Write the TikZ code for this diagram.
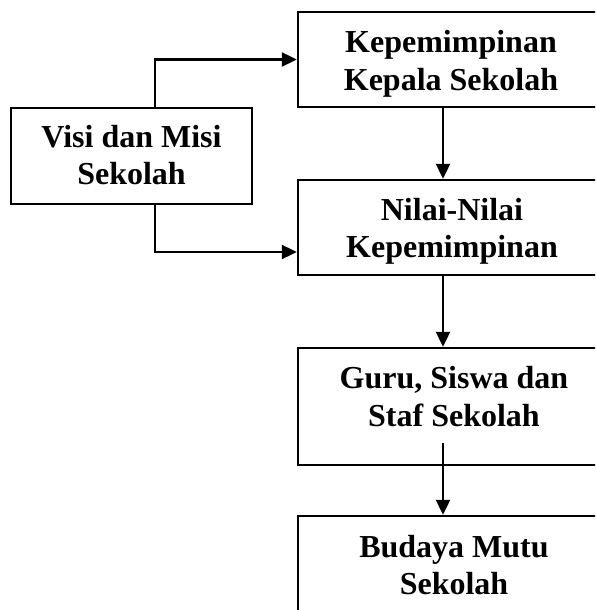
\documentclass[tikz,border=0pt]{standalone}
\usepackage{fontspec}
\setmainfont{Liberation Serif}
\usetikzlibrary{arrows.meta}

\begin{document}
\begin{tikzpicture}[x=1pt,y=-1pt,
  box/.style={draw=black, line width=2.5pt, fill=white, inner sep=0pt},
  lbl/.style={align=center, inner sep=0pt,
    font=\fontsize{32}{37.5}\selectfont\bfseries},
  arr/.style={draw=black, line width=2.4pt,
    -{Triangle[length=15pt,width=14pt]}}]
  \useasboundingbox (0,0) rectangle (595,610);
  \clip (0,0) rectangle (595,610);
  \fill[white] (0,0) rectangle (595,610);

  % boxes
  \node[box, minimum width=308pt, minimum height=95pt]  (kep) at (452,59.5)  {};
  \node[box, minimum width=308pt, minimum height=95pt]  (nil) at (452,227.5) {};
  \node[box, minimum width=308pt, minimum height=117pt] (gur) at (452,406.5) {};
  \node[box, minimum width=308pt, minimum height=120pt] (bud) at (452,576)   {};
  \node[box, minimum width=241pt, minimum height=96pt]  (vis) at (131.5,156) {};

  % texts
  \node[lbl] (tkep) at (451,64)    {Kepemimpinan\\Kepala Sekolah};
  \node[lbl] (tnil) at (452,231.5) {Nilai-Nilai\\Kepemimpinan};
  \node[lbl] (tgur) at (454,396.5) {Guru, Siswa dan\\Staf Sekolah};
  \node[lbl] (tbud) at (454,565)   {Budaya Mutu\\Sekolah};
  \node[lbl] (tvis) at (131.5,155) {Visi dan Misi\\Sekolah};

  % helper points for the connector routes
  \coordinate (ax) at (443,0);
  \coordinate (vb) at (155,252);
  \coordinate (gstart) at (443,443);

  % connectors
  \draw[arr] (vis.north -| vb) |- (kep.west);
  \draw[arr] (vis.south -| vb) -- (vb) -- (nil.west |- vb);
  \draw[arr] (kep.south -| ax) -- (nil.north -| ax);
  \draw[arr] (nil.south -| ax) -- (gur.north -| ax);
  \draw[arr] (gstart) -- (bud.north -| ax);
\end{tikzpicture}
\end{document}
